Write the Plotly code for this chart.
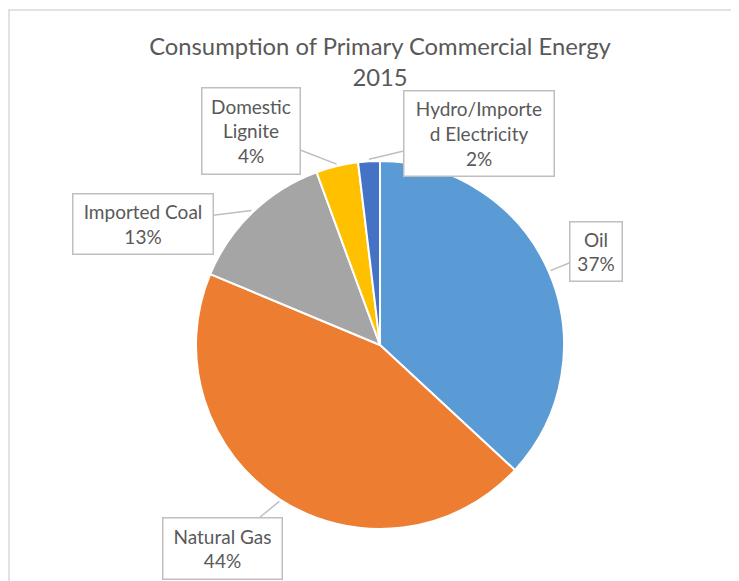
import math
import plotly.graph_objects as go

# data (share of consumption, %)
sources = ["Oil", "Natural Gas", "Imported Coal", "Domestic Lignite", "Hydro/Imported Electricity"]
shares = [36.9, 44.4, 13.1, 3.7, 1.9]
label_text = ["Oil", "Natural Gas", "Imported Coal", "Domestic<br>Lignite", "Hydro/Importe<br>d Electricity"]
colors = ["#5B9BD5", "#ED7D31", "#A5A5A5", "#FFC000", "#4472C4"]

W, H = 739, 581
OFF = 8  # page body margin shifts the figure
CX, CY, R = 380 - OFF, 345 - OFF, 184  # pie centre / radius in px

# callout boxes: centre x, centre y, width, height (px, screen coords)
boxes = [
    (596, 252, 53, 60),
    (222, 548, 120, 62),
    (143, 224, 141, 61),
    (251, 131, 99, 87),
    (479, 133, 151, 86),
]

TEXT = "#595959"
FONT = "Lato"

fig = go.Figure(go.Pie(
    labels=sources,
    values=shares,
    sort=False,
    direction="clockwise",
    rotation=0,
    textinfo="none",
    hoverinfo="label+percent",
    marker=dict(colors=colors, line=dict(color="white", width=2)),
    domain=dict(x=[(CX - R) / W, (CX + R) / W],
                y=[1 - (CY + R) / H, 1 - (CY - R) / H]),
    showlegend=False,
))

total = sum(shares)
start = 0.0
for i, v in enumerate(shares):
    mid = (start + v / 2) / total * 2 * math.pi
    start += v
    tx = CX + (R + 2) * math.sin(mid)
    ty = CY - (R + 2) * math.cos(mid)
    bx, by, bw, bh = boxes[i]
    bx, by = bx - OFF, by - OFF
    pct = round(v / total * 100)
    fig.add_annotation(
        x=tx / W, y=1 - ty / H, xref="paper", yref="paper",
        ax=bx - tx, ay=by - ty, axref="pixel", ayref="pixel",
        text=f"{label_text[i]}<br>{pct}%",
        showarrow=True, arrowhead=0, arrowwidth=1.5, arrowcolor="#BFBFBF",
        standoff=0,
        width=bw - 2, height=bh - 2, borderpad=0,
        bordercolor="#BFBFBF", borderwidth=1.5, bgcolor="white",
        font=dict(family=FONT, size=19, color=TEXT),
        align="center", valign="middle",
    )

fig.update_layout(
    width=W, height=H,
    margin=dict(l=0, r=0, t=0, b=0),
    paper_bgcolor="white",
    title=dict(
        text="Consumption of Primary Commercial Energy<br>2015",
        x=CX / W, xanchor="center",
        y=1 - 47 / H, yanchor="top",
        font=dict(family=FONT, size=23.8, color=TEXT),
    ),
    shapes=[dict(type="rect", xref="paper", yref="paper",
                 x0=(9 - OFF) / W, x1=1.05, y0=-0.05, y1=1 - (10 - OFF) / H,
                 line=dict(color="#D9D9D9", width=1.5))],
)

fig.write_html("out.html")
